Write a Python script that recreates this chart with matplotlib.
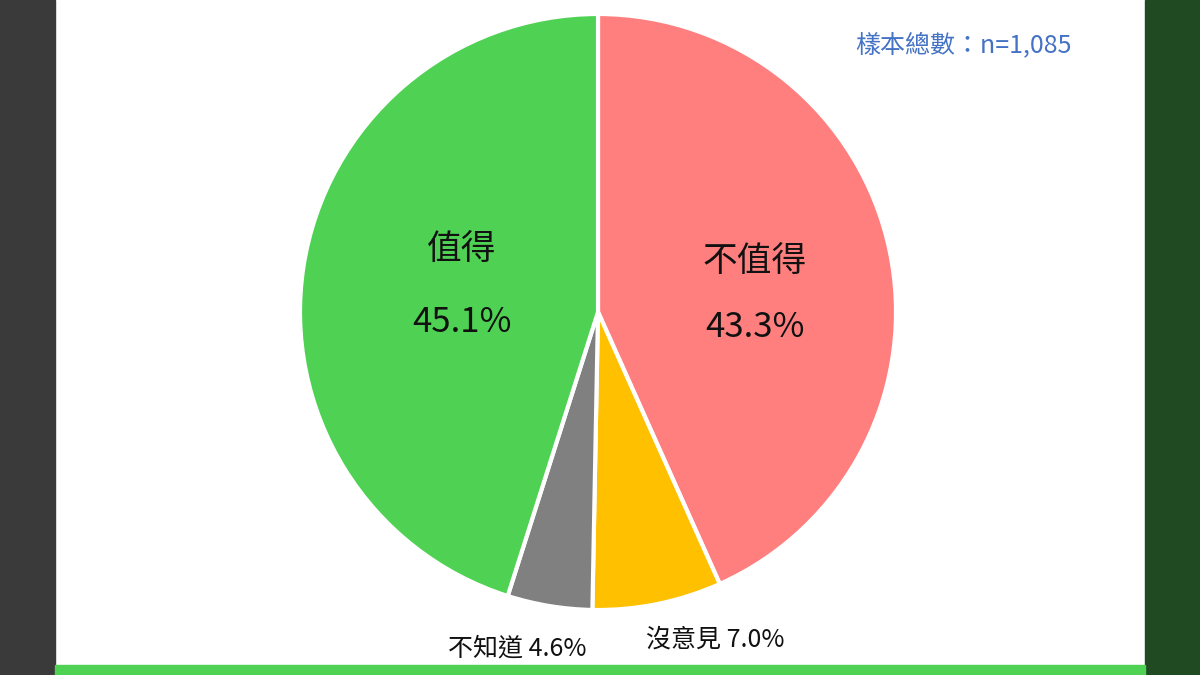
import matplotlib
matplotlib.use("Agg")
import matplotlib.pyplot as plt
from matplotlib.patches import Rectangle

plt.rcParams['font.family'] = ['Noto Sans CJK TC', 'DejaVu Sans']

labels = ['不值得', '沒意見', '不知道', '值得']
values = [43.3, 7.0, 4.6, 45.1]
colors = ['#FF7F7F', '#FFC000', '#808080', '#4FD153']

W, H = 1200, 675
fig = plt.figure(figsize=(12, 6.75), dpi=100)
fig.patch.set_facecolor('white')

def px(x, y):
    return x / W, 1 - y / H

fig.patches.append(Rectangle((0, 0), 55 / W, 1, transform=fig.transFigure, color='#3a3a3a', zorder=0))
fig.patches.append(Rectangle((1145 / W, 0), 55 / W, 1, transform=fig.transFigure, color='#1f4a22', zorder=0))
fig.patches.append(Rectangle((55 / W, 0), 1090 / W, 10 / H, transform=fig.transFigure, color='#4FD153', zorder=0))

cx, cy, r = 598, 312, 298
ax = fig.add_axes([(cx - 300) / W, (H - cy - 300) / H, 600 / W, 600 / H])
ax.pie(values, colors=colors, startangle=90, counterclock=False, radius=r / 300,
       wedgeprops=dict(edgecolor='white', linewidth=3))
ax.set_xlim(-1, 1); ax.set_ylim(-1, 1)
ax.set_aspect('equal')
ax.axis('off')

def t(x, y, s, size, color='#111111'):
    fig.text(*px(x, y), s, fontsize=size, color=color, ha='center', va='center', fontweight='medium')

t(462, 250, labels[3], 25)
t(462, 322, f'{values[3]}%', 25)
t(755, 262, labels[0], 25)
t(755, 328, f'{values[0]}%', 25)
t(517, 648, f'{labels[2]} {values[2]}%', 18)
t(715, 640, f'{labels[1]} {values[1]}%', 18)
t(963, 45, '樣本總數：n=1,085', 18, '#4472C4')

fig.savefig('out.png', dpi=100)
